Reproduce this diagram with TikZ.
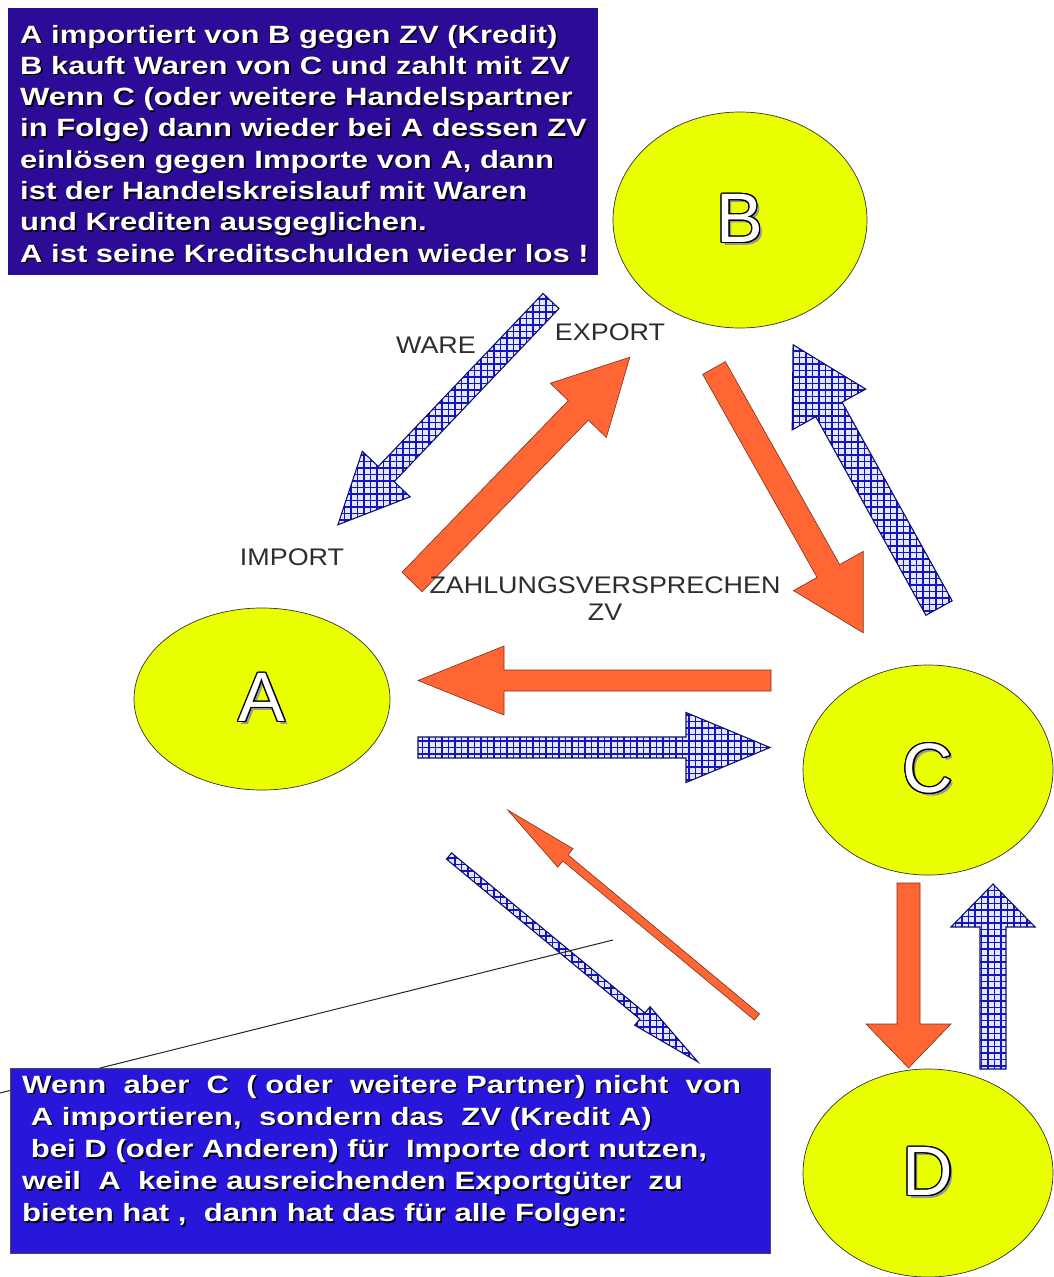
\documentclass[tikz,border=0pt]{standalone}
\usepackage{fontspec}
\setmainfont{Liberation Sans}
\newfontfamily\topfont[FakeStretch=1.24]{Liberation Sans}
\newfontfamily\botfont[FakeStretch=1.245]{Liberation Sans}
\newfontfamily\labfont[FakeStretch=1.12]{Liberation Sans}
\usepackage{contour}
\contourlength{1.3pt}
\usetikzlibrary{shapes.geometric}
\definecolor{ybl}{RGB}{234,255,0}
\definecolor{topblue}{RGB}{44,12,150}
\definecolor{botblue}{RGB}{40,22,218}
\definecolor{orng}{RGB}{255,102,51}
\definecolor{orngedge}{RGB}{120,50,30}
\definecolor{hatchblue}{RGB}{20,20,195}
\definecolor{hatchbg}{RGB}{228,232,255}
\definecolor{navy}{RGB}{15,15,110}
\definecolor{labgray}{RGB}{45,45,45}
\definecolor{lshadow}{RGB}{150,150,150}
\newcommand\ashape[4]{(0,-#2) -- ({#1-#4},-#2) -- ({#1-#4},-#3) -- (#1,0) -- ({#1-#4},#3) -- ({#1-#4},#2) -- (0,#2) -- cycle}
\newcommand\orangearrow[6]{\path[oarrow,shift={(#1)},rotate=#2] \ashape{#3}{#4}{#5}{#6};}
\newcommand\bluearrow[6]{%
 \begin{scope}
  \clip[shift={(#1)},rotate=#2] \ashape{#3}{#4}{#5}{#6};
  \fill[hatchbg] ([shift={(-360,-360)}]#1) rectangle ([shift={(360,360)}]#1);
  \draw[hatch] ([shift={(-360,-360)}]#1) grid ([shift={(360,360)}]#1);
 \end{scope}
 \path[barrow,shift={(#1)},rotate=#2] \ashape{#3}{#4}{#5}{#6};}
\newcommand\bigletter[1]{{\fontsize{70}{70}\selectfont\makebox[0pt][l]{\hspace{3pt}\raisebox{-3pt}{\textcolor{lshadow}{#1}}}\color{white}\contour{black}{#1}}}
\newcommand\toptxt{A importiert von B gegen ZV (Kredit)\\
B kauft Waren von C und zahlt mit ZV\\
Wenn C (oder weitere Handelspartner\\
in Folge) dann wieder bei A dessen ZV\\
einlösen gegen Importe von A, dann\\
ist der Handelskreislauf mit Waren\\
und Krediten ausgeglichen.\\
A ist seine Kreditschulden wieder los !}
\newcommand\bottxt{Wenn\ \ aber\ \ C\ \ (\ oder\ \ weitere Partner) nicht\ \ von\\
\ A importieren,\ \ sondern das\ \ ZV (Kredit A)\\
\ bei D (oder Anderen) für\ \ Importe dort nutzen,\\
weil\ \ A\ \ keine ausreichenden Exportgüter\ \ zu\\
bieten hat ,\ \ dann hat das für alle Folgen:}
\begin{document}
\begin{tikzpicture}[x=1pt,y=-1pt,
  oarrow/.style={fill=orng,draw=orngedge,line width=0.6pt,line join=miter},
  barrow/.style={draw=navy,line width=1.1pt,line join=miter},
  hatch/.style={draw=hatchblue,line width=1.25pt,step=6.5pt},
  circ/.style={ellipse,fill=ybl,draw=black!80,line width=0.7pt,inner sep=0pt},
  lab/.style={font=\labfont\fontsize{24}{26}\selectfont,text=labgray,inner sep=0pt},
  boxtext/.style={anchor=north west,inner sep=0pt,align=left},
  toptextstyle/.style={boxtext,font=\topfont\bfseries\fontsize{25}{31.3}\selectfont},
  bottextstyle/.style={boxtext,font=\botfont\bfseries\fontsize{25}{32.2}\selectfont}]
\useasboundingbox[fill=white] (0,0) rectangle (1054,1277);

% arrow tails
\coordinate (wT) at (551,301);
\coordinate (eT) at (412,582);
\coordinate (bcT) at (714,368);
\coordinate (cbT) at (939,608);
\coordinate (caT) at (771,680.5);
\coordinate (acT) at (418,747.5);
\coordinate (cdT) at (908.5,883);
\coordinate (dcT) at (993,1069);
\coordinate (daT) at (757,1017);
\coordinate (adT) at (449,856);

\bluearrow{wT}{-133.6}{309}{11}{33}{70}
\orangearrow{eT}{45.9}{313}{14}{39}{74}
\orangearrow{bcT}{-60.6}{304}{13}{40}{71}
\bluearrow{cbT}{119}{301}{15}{42}{74}
\orangearrow{caT}{180}{353}{10.5}{34.5}{86}
\bluearrow{acT}{0}{352}{10.5}{35}{84}
\orangearrow{cdT}{-90}{185}{11.5}{42.5}{44}
\bluearrow{dcT}{90}{185}{13}{42}{43}
\orangearrow{daT}{140.3}{324}{4}{12}{75}
\bluearrow{adT}{-39.6}{323}{4}{12}{72}

% thin line
\coordinate (lA) at (613,940);
\coordinate (lB) at (0,1093);
\draw[line width=1pt,black!85] (lA) -- (lB);

% text boxes
\node[fill=topblue,minimum width=590pt,minimum height=267pt,anchor=north west,inner sep=0pt] (topbox) at (8,8) {};
\node[toptextstyle,text=black] (topshadow) at (21.6,26.3) {\toptxt};
\node[toptextstyle,text=white] (toptext) at (20,24.7) {\toptxt};

\node[fill=botblue,draw=black!70,line width=0.5pt,minimum width=760pt,minimum height=185pt,anchor=north west,inner sep=0pt] (botbox) at (10,1068) {};
\node[bottextstyle,text=black] (botshadow) at (23.6,1076.3) {\bottxt};
\node[bottextstyle,text=white] (bottext) at (22,1074.7) {\bottxt};

% circles
\node[circ,minimum width=254pt,minimum height=216pt] (B) at (740,220) {\bigletter{B}};
\node[circ,minimum width=256pt,minimum height=182pt] (A) at (262,699) {\bigletter{A}};
\node[circ,minimum width=250pt,minimum height=210pt] (C) at (928,770) {\bigletter{C}};
\node[circ,minimum width=250pt,minimum height=208pt] (D) at (928,1173) {\bigletter{D}};

% labels
\node[lab] (ware) at (436,345) {WARE};
\node[lab] (export) at (610,332) {EXPORT};
\node[lab] (import) at (292,557) {IMPORT};
\node[lab] (zahl) at (605,585) {ZAHLUNGSVERSPRECHEN};
\node[lab] (zv) at (605,612) {ZV};
\end{tikzpicture}
\end{document}
